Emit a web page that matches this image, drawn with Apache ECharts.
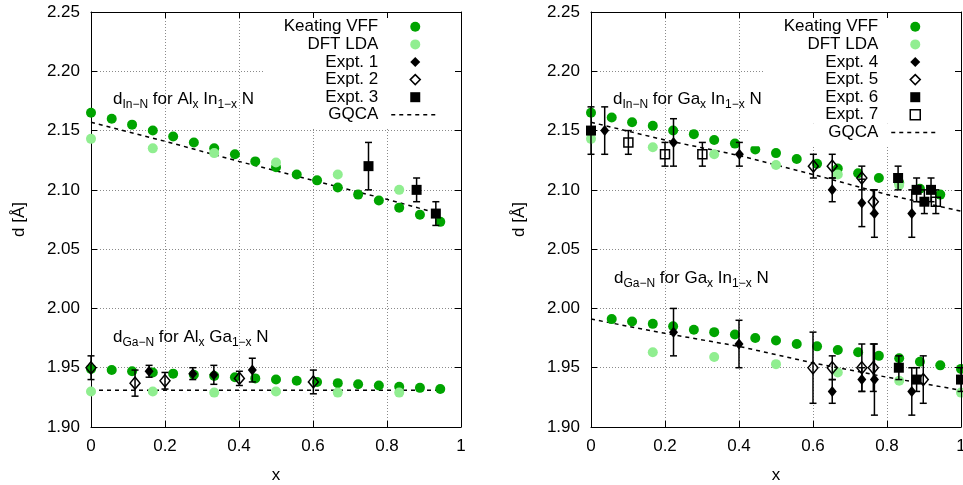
<!DOCTYPE html>
<html><head><meta charset="utf-8">
<script src="https://cdn.jsdelivr.net/npm/echarts@6/dist/echarts.min.js"></script>
<style>html,body{margin:0;padding:0;background:#fff}#c{width:963px;height:485px}</style>
</head><body><div id="c"></div><script>
// ---------- data ----------
const xTicks = [0, 0.2, 0.4, 0.6, 0.8, 1];
const yTicks = [1.90, 1.95, 2.00, 2.05, 2.10, 2.15, 2.20, 2.25];

// Keating VFF x positions
const vffX = [0,0.056,0.111,0.167,0.222,0.278,0.333,0.389,0.444,0.5,0.556,0.611,0.667,0.722,0.778,0.833,0.889,0.944];
const vffXGaIn_GaN = [0.056,0.111,0.167,0.222,0.278,0.333,0.389,0.444,0.5,0.556,0.611,0.667,0.722,0.778,0.833,0.889,0.944,1];
const dftX = [0,0.167,0.333,0.5,0.667,0.833];
const dftXGaIn_GaN = [0.167,0.333,0.5,0.667,0.833,1];

// Left panel: AlInN (d In-N) and AlGaN (d Ga-N)
const alInN_vff = [2.165,2.160,2.155,2.150,2.145,2.140,2.135,2.130,2.124,2.119,2.113,2.108,2.102,2.096,2.091,2.085,2.079,2.073];
const alGaN_vff = [1.949,1.948,1.947,1.946,1.945,1.944,1.943,1.942,1.941,1.940,1.939,1.938,1.937,1.936,1.935,1.934,1.933,1.932];
const alInN_dft = [2.143,2.135,2.131,2.123,2.113,2.100];
const alGaN_dft = [1.930,1.930,1.929,1.930,1.929,1.929];
const alInN_gqca = [[0,2.157],[0.2,2.141],[0.4,2.124],[0.6,2.108],[0.8,2.092],[0.94,2.080]];
const alGaN_gqca = [[0,1.931],[0.94,1.931]];
// [x, d, error]
const expt1 = [[0.157,1.947,0.005],[0.275,1.945,0.005],[0.332,1.944,0.008],[0.436,1.948,0.01]];
const expt2 = [[0,1.950,0.01],[0.119,1.937,0.011],[0.2,1.939,0.007],[0.401,1.941,0.006],[0.601,1.938,0.01]];
const expt3 = [[0.75,2.120,0.02],[0.88,2.100,0.01],[0.932,2.080,0.01]];

// Right panel: GaInN (d In-N and d Ga-N)
const gaInN_vff = [2.165,2.161,2.157,2.154,2.150,2.147,2.142,2.139,2.134,2.131,2.126,2.122,2.118,2.114,2.110,2.106,2.101,2.096];
const gaGaN_vff = [1.991,1.989,1.987,1.985,1.982,1.980,1.978,1.975,1.973,1.970,1.968,1.965,1.963,1.960,1.958,1.955,1.952,1.949];
const gaInN_dft = [2.143,2.136,2.130,2.121,2.113,2.104];
const gaGaN_dft = [1.963,1.959,1.953,1.946,1.939,1.929];
const gaInN_gqca = [[0,2.157],[0.2,2.142],[0.4,2.129],[0.6,2.113],[0.8,2.096],[1,2.082]];
const gaGaN_gqca = [[0,1.991],[0.2,1.979],[0.4,1.968],[0.6,1.954],[0.8,1.942],[1,1.931]];
const expt4 = [[0.037,2.150,0.02],[0.223,2.140,0.02],[0.401,2.130,0.01],[0.652,2.100,0.01],[0.732,2.089,0.02],[0.766,2.080,0.02],[0.867,2.080,0.02],
               [0.223,1.980,0.02],[0.4,1.970,0.02],[0.652,1.930,0.01],[0.732,1.940,0.01],[0.766,1.940,0.03],[0.867,1.930,0.02]];
const expt5 = [[0.601,2.120,0.01],[0.652,2.120,0.01],[0.732,2.110,0.01],[0.763,2.090,0.01],
               [0.6,1.950,0.03],[0.652,1.950,0.01],[0.732,1.950,0.02],[0.763,1.950,0.02],[0.898,1.940,0.02]];
const expt6 = [[0,2.150,0.02],[0.83,2.110,0.01],[0.88,2.100,0.01],[0.901,2.090,0.01],[0.919,2.100,0.01],
               [0.832,1.950,0.01],[0.88,1.940,0.01],[1.0,1.940,0.01]];
const expt7 = [[0.101,2.140,0.01],[0.2,2.130,0.01],[0.301,2.130,0.01],[0.932,2.090,0.01]];

const leftLegend = ['Keating VFF','DFT LDA','Expt. 1','Expt. 2','Expt. 3'];
const rightLegend = ['Keating VFF','DFT LDA','Expt. 4','Expt. 5','Expt. 6','Expt. 7'];
const lineLegend = ['GQCA'];

// ---------- styling ----------
const F = "'Liberation Sans', Arial, Helvetica, sans-serif";
const DG = '#00a400';
const LG = '#90ee90';
const OPEN = 'rgba(0,0,0,0)';
const ROW = 17.6;

function pts(xs, ys) { return xs.map((x, i) => [x, ys[i]]); }

function xAxes(gi) {
  return [
    { type:'value', gridIndex:gi, min:xTicks[0], max:xTicks[xTicks.length-1], interval:0.2, position:'bottom',
      name:'x', nameLocation:'middle', nameGap:40,
      nameTextStyle:{fontSize:17, color:'#000', fontFamily:F},
      axisLine:{onZero:false, lineStyle:{color:'#000', width:1}},
      axisTick:{inside:true, length:6, lineStyle:{color:'#000', width:1}},
      axisLabel:{fontSize:17, color:'#000', fontFamily:F, margin:11},
      splitLine:{show:true, lineStyle:{color:'#8a8a8a', width:1, type:[1,2]}} },
    { type:'value', gridIndex:gi, min:xTicks[0], max:xTicks[xTicks.length-1], interval:0.2, position:'top', z:10,
      axisLine:{onZero:false, lineStyle:{color:'#000', width:1}},
      axisTick:{inside:true, length:6, lineStyle:{color:'#000', width:1}},
      axisLabel:{show:false}, splitLine:{show:false} }
  ];
}
function yAxes(gi) {
  return [
    { type:'value', gridIndex:gi, min:yTicks[0], max:yTicks[yTicks.length-1], interval:0.05, position:'left',
      name:'d [Å]', nameLocation:'middle', nameGap:63,
      nameTextStyle:{fontSize:17, color:'#000', fontFamily:F},
      axisLine:{onZero:false, lineStyle:{color:'#000', width:1}},
      axisTick:{inside:true, length:6, lineStyle:{color:'#000', width:1}},
      axisLabel:{fontSize:17, color:'#000', fontFamily:F, margin:11, formatter:v => v.toFixed(2)},
      splitLine:{show:true, lineStyle:{color:'#8a8a8a', width:1, type:[1,2]}} },
    { type:'value', gridIndex:gi, min:yTicks[0], max:yTicks[yTicks.length-1], interval:0.05, position:'right', z:10,
      axisLine:{onZero:false, lineStyle:{color:'#000', width:1}},
      axisTick:{inside:true, length:6, lineStyle:{color:'#000', width:1}},
      axisLabel:{show:false}, splitLine:{show:false} }
  ];
}

function errRender(params, api) {
  const x = api.value(0), y = api.value(1), e = api.value(2);
  const p1 = api.coord([x, y + e]), p2 = api.coord([x, y - e]);
  const w = 3.5, st = {stroke:'#000', lineWidth:1.5};
  return { type:'group', children:[
    {type:'line', shape:{x1:p1[0], y1:p1[1], x2:p2[0], y2:p2[1]}, style:st},
    {type:'line', shape:{x1:p1[0]-w, y1:p1[1], x2:p1[0]+w, y2:p1[1]}, style:st},
    {type:'line', shape:{x1:p2[0]-w, y1:p2[1], x2:p2[0]+w, y2:p2[1]}, style:st}
  ]};
}

function scat(name, xi, yi, data, symbol, size, color, z, border) {
  return { type:'scatter', name, xAxisIndex:xi, yAxisIndex:yi, data, symbol, symbolSize:size, clip:false, z,
    itemStyle: border ? {color:OPEN, borderColor:'#000', borderWidth:1.5, opacity:1} : {color, opacity:1},
    emphasis:{disabled:true}, silent:true };
}
function errs(xi, yi, data) {
  return { type:'custom', name:'err', xAxisIndex:xi, yAxisIndex:yi, data, renderItem:errRender,
    encode:{x:0, y:1}, clip:false, silent:true, z:3 };
}
function gq(xi, yi, data) {
  return { type:'line', name:'GQCA', xAxisIndex:xi, yAxisIndex:yi, data, symbol:'none', clip:false, z:2,
    lineStyle:{color:'#000', width:1.5, type:[4,4]}, itemStyle:{color:OPEN}, emphasis:{disabled:true}, silent:true };
}
const xyz = a => a.map(p => [p[0], p[1], p[2]]);

function legendData(names) {
  return names.map(n => {
    if (n === 'GQCA') return {name:n, itemStyle:{color:OPEN, borderWidth:0, opacity:1}, lineStyle:{color:'#000', width:1.5, type:[4,4], opacity:1}};
    if (n === 'Expt. 2' || n === 'Expt. 5' || n === 'Expt. 7') return {name:n, itemStyle:{color:OPEN, borderColor:'#000', borderWidth:1.5, opacity:1}};
    return {name:n, itemStyle:{opacity:1}};
  });
}
// symbol legend: icons 10 px wide, centred 39 px left of the box edge
function symLegend(names, right) {
  return { orient:'vertical', right, top:13, align:'right', itemWidth:10, itemHeight:10, itemGap:0,
    padding:[5,34,0,19], backgroundColor:'#fff', selectedMode:false, z:4, symbolKeepAspect:true,
    textStyle:{fontSize:17, fontFamily:F, color:'#000', lineHeight:ROW, padding:[0,27,0,0]},
    data: legendData(names) };
}
// line legend row (GQCA) placed below the symbol rows
function lineLegend_(rowIndex, right) {
  return { orient:'vertical', right, top:18 + ROW * rowIndex, align:'right', itemWidth:46, itemHeight:10, itemGap:0,
    padding:[0,17,5,80], backgroundColor:'#fff', selectedMode:false, z:4,
    textStyle:{fontSize:17, fontFamily:F, color:'#000', lineHeight:ROW, padding:[0,8,0,0]},
    data: legendData(lineLegend) };
}

function label(x, y, parts) {
  const text = parts.map(p => p[1] ? '{s|' + p[0] + '}' : '{m|' + p[0] + '}').join('');
  return { type:'text', x, y, z:10, silent:true,
    style:{ text, verticalAlign:'top', fill:'#000', fontFamily:F, fontSize:17,
      rich:{ m:{fontSize:17, fontFamily:F, fill:'#000', lineHeight:24, verticalAlign:'middle'},
             s:{fontSize:12, fontFamily:F, fill:'#000', lineHeight:12, verticalAlign:'bottom'} } } };
}

const option = {
  animation:false,
  backgroundColor:'#fff',
  grid:[
    {left:91, top:12, width:370, height:415, containLabel:false, outerBoundsMode:'none'},
    {left:591, top:12, width:370, height:415, containLabel:false, outerBoundsMode:'none'}
  ],
  xAxis: xAxes(0).concat(xAxes(1)),
  yAxis: yAxes(0).concat(yAxes(1)),
  legend:[ symLegend(leftLegend, 508), lineLegend_(leftLegend.length, 508),
           symLegend(rightLegend, 8), lineLegend_(rightLegend.length, 8) ],
  series:[
    // left panel (xAxis 0, yAxis 0)
    scat('Keating VFF', 0, 0, pts(vffX, alInN_vff).concat(pts(vffX, alGaN_vff)), 'circle', 10, DG, 2),
    scat('DFT LDA', 0, 0, pts(dftX, alInN_dft).concat(pts(dftX, alGaN_dft)), 'circle', 10, LG, 2),
    gq(0, 0, alInN_gqca), gq(0, 0, alGaN_gqca),
    errs(0, 0, xyz(expt1)), errs(0, 0, xyz(expt2)), errs(0, 0, xyz(expt3)),
    scat('Expt. 1', 0, 0, expt1.map(p => [p[0], p[1]]), 'diamond', [9,11], '#000', 4),
    scat('Expt. 2', 0, 0, expt2.map(p => [p[0], p[1]]), 'diamond', [10,12], '#000', 4, true),
    scat('Expt. 3', 0, 0, expt3.map(p => [p[0], p[1]]), 'rect', 10, '#000', 4),
    // right panel (xAxis 2, yAxis 2)
    scat('Keating VFF', 2, 2, pts(vffX, gaInN_vff).concat(pts(vffXGaIn_GaN, gaGaN_vff)), 'circle', 10, DG, 2),
    scat('DFT LDA', 2, 2, pts(dftX, gaInN_dft).concat(pts(dftXGaIn_GaN, gaGaN_dft)), 'circle', 10, LG, 2),
    gq(2, 2, gaInN_gqca), gq(2, 2, gaGaN_gqca),
    errs(2, 2, xyz(expt4)), errs(2, 2, xyz(expt5)), errs(2, 2, xyz(expt6)), errs(2, 2, xyz(expt7)),
    scat('Expt. 4', 2, 2, expt4.map(p => [p[0], p[1]]), 'diamond', [9,11], '#000', 4),
    scat('Expt. 5', 2, 2, expt5.map(p => [p[0], p[1]]), 'diamond', [10,12], '#000', 4, true),
    scat('Expt. 6', 2, 2, expt6.map(p => [p[0], p[1]]), 'rect', 10, '#000', 4),
    scat('Expt. 7', 2, 2, expt7.map(p => [p[0], p[1]]), 'rect', 9, '#000', 4, true)
  ],
  graphic:[
    label(113, 87, [['d'],['In−N',1],[' for Al'],['x',1],[' In'],['1−x',1],[' N']]),
    label(113, 325, [['d'],['Ga−N',1],[' for Al'],['x',1],[' Ga'],['1−x',1],[' N']]),
    label(613, 87, [['d'],['In−N',1],[' for Ga'],['x',1],[' In'],['1−x',1],[' N']]),
    label(614, 266, [['d'],['Ga−N',1],[' for Ga'],['x',1],[' In'],['1−x',1],[' N']])
  ]
};
const chart = echarts.init(document.getElementById('c'), null, {renderer:'canvas'});
chart.setOption(option);
</script></body></html>
